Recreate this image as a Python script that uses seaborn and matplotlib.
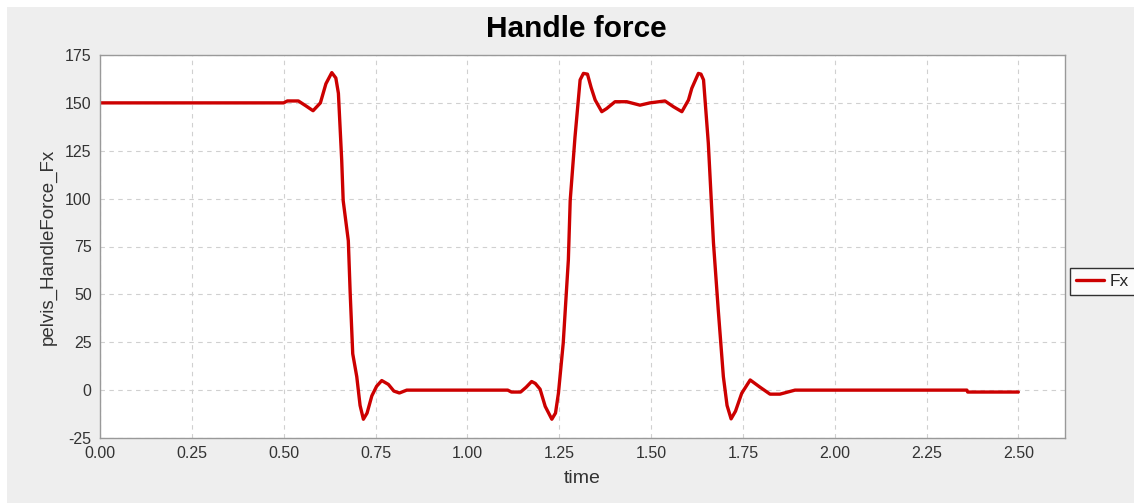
import matplotlib
matplotlib.use("Agg")
import matplotlib.pyplot as plt
import seaborn as sns
import pandas as pd
from matplotlib.patches import Rectangle

# ---- data ----
time = [0.0, 0.50, 0.51, 0.54, 0.56, 0.58, 0.60, 0.615, 0.631, 0.642, 0.649, 0.658,
        0.662, 0.676, 0.681, 0.688, 0.699, 0.708, 0.717, 0.727, 0.740, 0.753, 0.767,
        0.785, 0.800, 0.815, 0.835, 1.11, 1.12, 1.145, 1.16, 1.175, 1.185, 1.198,
        1.212, 1.230, 1.240, 1.248, 1.261, 1.275, 1.280, 1.293, 1.307, 1.316, 1.327,
        1.337, 1.348, 1.366, 1.379, 1.402, 1.434, 1.470, 1.497, 1.538, 1.561, 1.584,
        1.602, 1.611, 1.629, 1.636, 1.643, 1.656, 1.670, 1.683, 1.697, 1.707, 1.718,
        1.730, 1.747, 1.770, 1.797, 1.824, 1.851, 1.892, 2.360, 2.362, 2.50]
fx = [150, 150, 151, 151, 148.5, 145.9, 150, 160, 165.8, 163, 155, 120,
      99, 78, 51, 19, 7, -8, -15.2, -12, -3, 2, 5,
      3, -0.5, -1.5, 0, 0, -1, -1, 1.5, 4.5, 3.5, 0.5,
      -8.5, -15.2, -12, -1.6, 24.5, 68, 99, 132, 162, 165.4, 165,
      158, 151.5, 145.4, 147, 150.6, 150.6, 148.8, 150, 151, 148, 145.4,
      151.5, 157.6, 165.4, 165, 162, 129, 77, 42, 7, -8, -15,
      -11, -1.6, 5.3, 1.5, -2.1, -2.1, 0, 0, -1, -1]
series_name = "Fx"
title = "Handle force"
x_label = "time"
y_label = "pelvis_HandleForce_Fx"
x_ticks = [0.0, 0.25, 0.5, 0.75, 1.0, 1.25, 1.5, 1.75, 2.0, 2.25, 2.5]
y_ticks = [-25, 0, 25, 50, 75, 100, 125, 150, 175]

df = pd.DataFrame({"time": time, "Fx": fx})

sns.set_style("white")
plt.rcParams["font.family"] = ["Liberation Sans", "DejaVu Sans"]

fig = plt.figure(figsize=(11.34, 5.03), dpi=100, facecolor="white")
fig.patches.append(Rectangle((7 / 1134, 0), 1, 1 - 7 / 503, transform=fig.transFigure,
                             facecolor="#EEEEEE", edgecolor="none", zorder=-10))
ax = fig.add_axes([100 / 1134, 1 - 438 / 503, 965 / 1134, 383 / 503])
ax.set_facecolor("white")

sns.lineplot(data=df, x="time", y="Fx", ax=ax, color="#CC0000", linewidth=2.4,
             label=series_name, sort=False)

ax.set_xlim(0, 2.627)
ax.set_ylim(-25, 175)
ax.set_xticks(x_ticks)
ax.set_xticklabels([f"{v:.2f}" for v in x_ticks])
ax.set_yticks(y_ticks)
ax.set_yticklabels([str(v) for v in y_ticks])
ax.grid(True, color="#D0D0D0", linestyle=(0, (4, 4)), linewidth=0.8)
ax.tick_params(axis="both", direction="out", length=4, width=0.8, color="#888888",
               labelsize=11.5, labelcolor="#333333", pad=2)
for s in ax.spines.values():
    s.set_color("#999999")
    s.set_linewidth(1.0)

ax.set_xlabel(x_label, fontsize=14, color="#333333", labelpad=6)
ax.set_ylabel(y_label, fontsize=13.5, color="#333333", labelpad=6)
fig.text(576 / 1134, 1 - 29 / 503, title, ha="center", va="center",
         fontsize=21.5, fontweight="bold", color="black")

ax.get_legend().remove()
handles, labels = ax.get_legend_handles_labels()
leg = fig.legend(handles, labels, loc="upper left",
                 bbox_to_anchor=(1070 / 1134, 1 - 268 / 503), borderaxespad=0,
                 frameon=True, fancybox=False, fontsize=12.5, handlelength=1.6,
                 handletextpad=0.35, borderpad=0.35)
leg.get_frame().set_edgecolor("black")
leg.get_frame().set_linewidth(1.0)
leg.get_frame().set_facecolor("white")

fig.savefig("out.png", dpi=100, facecolor=fig.get_facecolor())
